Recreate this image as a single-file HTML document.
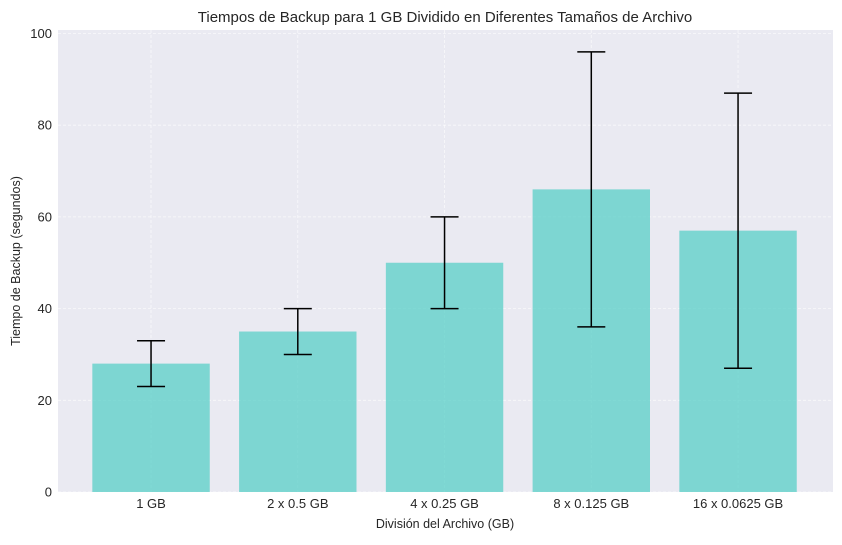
<!DOCTYPE html>
<html><head><meta charset="utf-8"><style>
body{margin:0;background:#fff;font-family:"Liberation Sans",sans-serif;}
svg text{font-family:"Liberation Sans",sans-serif;fill:#262626;}
</style></head><body>
<svg id="c" width="842" height="540"></svg>
<script>
const categories=["1 GB","2 x 0.5 GB","4 x 0.25 GB","8 x 0.125 GB","16 x 0.0625 GB"];
const values=[28,35,50,66,57];
const errors=[5,5,10,30,30];
const yTicks=[0,20,40,60,80,100];
const L=58,R=833,T=30,B=492;
const xMin=-0.634,xMax=4.647,yMin=0,yMax=100.76;
const sx=v=>L+(v-xMin)/(xMax-xMin)*(R-L);
const sy=v=>B-(v-yMin)/(yMax-yMin)*(B-T);
const svg=document.getElementById('c');const NS="http://www.w3.org/2000/svg";
function mk(t,a,p){const e=document.createElementNS(NS,t);for(const k in a)e.setAttribute(k,a[k]);(p||svg).appendChild(e);return e;}
const bg=mk('rect',{x:L,y:T,width:R-L,height:B-T,fill:'#eaeaf2'});


yTicks.forEach(v=>{
 const g=mk('line',{x1:L,x2:R,y1:sy(v),y2:sy(v),stroke:'#fff','stroke-width':0.8,'stroke-opacity':0.7,'stroke-dasharray':'3,2'});
 
 
 const t=mk('text',{x:L-6,y:sy(v)+4.5,'text-anchor':'end','font-size':13});t.textContent=v;
 
 
});
categories.forEach((c,i)=>{
 const g=mk('line',{x1:sx(i),x2:sx(i),y1:T,y2:B,stroke:'#fff','stroke-width':0.8,'stroke-opacity':0.7,'stroke-dasharray':'3,2'});
 
 
});
categories.forEach((c,i)=>{
 const w=sx(0.4)-sx(-0.4);
 const b=mk('rect',{x:sx(i)-w/2,y:sy(values[i]),width:w,height:sy(0)-sy(values[i]),fill:'#4ECDC4','fill-opacity':0.7});
 
 
 const lo=values[i]-errors[i],hi=values[i]+errors[i];
 const e=mk('g',{stroke:'#000','stroke-width':1.5});
 
 
 mk('line',{x1:sx(i),x2:sx(i),y1:sy(lo),y2:sy(hi)},e);
 mk('line',{x1:sx(i)-14,x2:sx(i)+14,y1:sy(lo),y2:sy(lo)},e);
 mk('line',{x1:sx(i)-14,x2:sx(i)+14,y1:sy(hi),y2:sy(hi)},e);
 const t=mk('text',{x:sx(i),y:B+16,'text-anchor':'middle','font-size':13});t.textContent=c;
 
 
});
let t=mk('text',{x:445,y:22,'text-anchor':'middle','font-size':15});t.textContent="Tiempos de Backup para 1 GB Dividido en Diferentes Tamaños de Archivo";


t=mk('text',{x:445,y:528,'text-anchor':'middle','font-size':12.5});t.textContent="División del Archivo (GB)";


t=mk('text',{x:20,y:261,'text-anchor':'middle','font-size':12.5,transform:'rotate(-90 20 261)'});t.textContent="Tiempo de Backup (segundos)";


</script>
</body></html>
